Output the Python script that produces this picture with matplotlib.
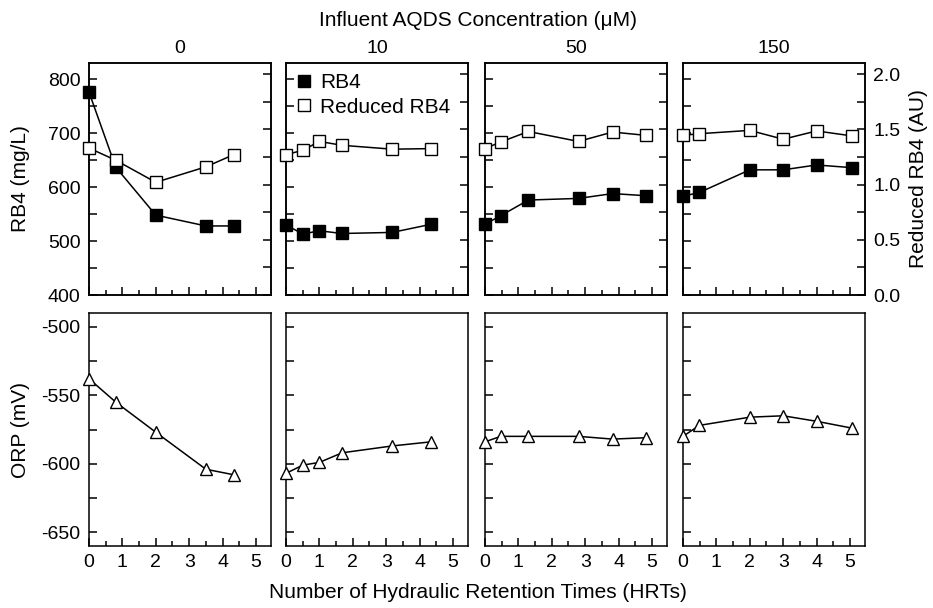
import numpy as np
import matplotlib
matplotlib.use("Agg")
import matplotlib.pyplot as plt
from matplotlib.lines import Line2D

plt.rcParams['font.family'] = ['Liberation Sans', 'DejaVu Sans']
plt.rcParams['font.size'] = 14

# influent AQDS concentrations (uM), one column each
conc_labels = ["0", "10", "50", "150"]

hrt_0 = [0, 0.8, 2.0, 3.5, 4.33]
rb4_0 = [776, 637, 548, 528, 528]
red_0 = [1.33, 1.22, 1.02, 1.16, 1.27]
orp_0 = [-538, -555, -577, -604, -608]

hrt_10 = [0, 0.5, 1.0, 1.68, 3.18, 4.34]
rb4_10 = [530, 513, 519, 514, 516, 531]
red_10 = [1.27, 1.31, 1.39, 1.355, 1.32, 1.325]
orp_10 = [-607, -601, -599, -592, -587, -584]

hrt_50 = [0, 0.47, 1.3, 2.8, 3.82, 4.82]
rb4_50 = [531, 547, 576, 579, 588, 584]
red_50 = [1.325, 1.385, 1.48, 1.39, 1.475, 1.445]
orp_50 = [-584, -580, -580, -580, -582, -581]

hrt_150 = [0, 0.49, 2.0, 3.0, 4.0, 5.06]
rb4_150 = [583, 590, 632, 632, 641, 636]
red_150 = [1.445, 1.46, 1.49, 1.41, 1.485, 1.44]
orp_150 = [-580, -572, -566, -565, -569, -574]

hrts = [hrt_0, hrt_10, hrt_50, hrt_150]
rb4s = [rb4_0, rb4_10, rb4_50, rb4_150]
reds = [red_0, red_10, red_50, red_150]
orps = [orp_0, orp_10, orp_50, orp_150]

W, H = 933, 608
fig = plt.figure(figsize=(W / 100, H / 100), dpi=100)

lefts = [89, 286, 485, 683]
pw = 182
top_box = (63, 295)
bot_box = (313, 546)

lw = 1.1
ms_sq = 9
ms_tri = 9
lab_fs = 15
ylab_x = (30 - 89) / pw  # right edge of the rotated left labels

def style(ax):
    for s in ax.spines.values():
        s.set_linewidth(1.1)
    ax.tick_params(which='both', direction='in', width=1.1, top=False, right=False)
    ax.tick_params(which='major', length=6, pad=6)
    ax.tick_params(which='minor', length=3.5)
    ax.set_xlim(0, 5.45)
    ax.set_xticks(np.arange(0, 6, 1))
    ax.set_xticks(np.arange(0.5, 5.5, 1), minor=True)

def frac(left, box):
    return [left / W, 1 - box[1] / H, pw / W, (box[1] - box[0]) / H]

for i in range(4):
    ax = fig.add_axes(frac(lefts[i], top_box))
    style(ax)
    ax2 = ax.twinx()
    ax2.set_xlim(0, 5.45)
    for s in ax2.spines.values():
        s.set_linewidth(1.1)
    ax2.tick_params(which='both', direction='in', width=1.1, length=6, pad=6)

    ax.plot(hrts[i], rb4s[i], '-', color='black', lw=lw, marker='s', ms=ms_sq,
            mfc='black', mec='black', mew=1.0, clip_on=False, zorder=3)
    ax2.plot(hrts[i], reds[i], '-', color='black', lw=lw, marker='s', ms=ms_sq,
             mfc='white', mec='black', mew=1.0, clip_on=False, zorder=3)

    ax.set_ylim(400, 830)
    yt = np.arange(400, 801, 50)
    ax.set_yticks(yt)
    ax.set_xticklabels([])
    ax2.set_ylim(0, 2.1)
    yt2 = np.arange(0, 2.01, 0.25)
    ax2.set_yticks(yt2)
    if i == 0:
        ax.set_yticklabels([str(v) if v % 100 == 0 else '' for v in yt])
        ax.set_ylabel("RB4 (mg/L)", fontsize=lab_fs)
        ax.yaxis.set_label_coords(ylab_x, 0.5)
    else:
        ax.set_yticklabels([])
    if i == 3:
        ax2.set_yticklabels(["%.1f" % v if (v * 2) % 1 == 0 else '' for v in yt2])
        ax2.set_ylabel("Reduced RB4 (AU)", fontsize=lab_fs, labelpad=6)
    else:
        ax2.set_yticklabels([])
    ax.set_title(conc_labels[i], fontsize=14, pad=7)

    if i == 1:
        h = [Line2D([], [], ls='none', marker='s', ms=ms_sq, mfc='black', mec='black'),
             Line2D([], [], ls='none', marker='s', ms=ms_sq, mfc='white', mec='black')]
        ax.legend(h, ["RB4", "Reduced RB4"], loc='upper left', frameon=False,
                  fontsize=lab_fs, handlelength=0.7, handletextpad=0.45,
                  borderaxespad=0.2, labelspacing=0.25, borderpad=0.3)

    axb = fig.add_axes(frac(lefts[i], bot_box))
    style(axb)
    axb.plot(hrts[i], orps[i], '-', color='black', lw=lw, marker='^', ms=ms_tri,
             mfc='white', mec='black', mew=1.0, clip_on=False, zorder=3)
    axb.set_ylim(-660, -490)
    ytb = np.arange(-650, -499, 25)
    axb.set_yticks(ytb)
    if i == 0:
        axb.set_yticklabels([str(v) if v % 50 == 0 else '' for v in ytb])
        axb.set_ylabel("ORP (mV)", fontsize=lab_fs)
        axb.yaxis.set_label_coords(ylab_x, 0.5)
    else:
        axb.set_yticklabels([])

fig.text(478 / W, 1 - 20 / H, "Influent AQDS Concentration (\u03bcM)", ha='center', va='center', fontsize=lab_fs)
fig.text(478 / W, 1 - 592 / H, "Number of Hydraulic Retention Times (HRTs)", ha='center', va='center', fontsize=lab_fs)

fig.savefig("out.png", dpi=100)
